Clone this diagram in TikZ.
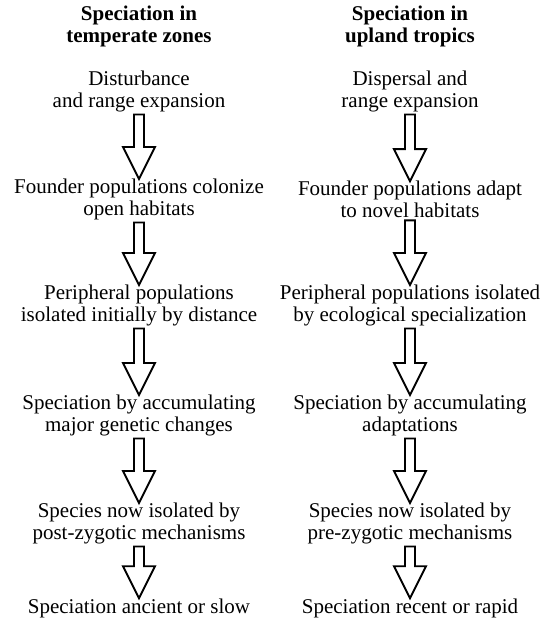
\documentclass[tikz,border=0pt]{standalone}
\usepackage{fontspec}
\setmainfont{Liberation Serif}
\usetikzlibrary{calc}
\tikzset{
  txt/.style={align=center,inner sep=0pt,font=\fontsize{21}{21.5}\selectfont},
  ttl/.style={align=center,inner sep=0pt,font=\fontsize{21}{22}\selectfont\bfseries},
  hollow/.style={draw=black,line width=1.9pt,fill=white,line join=miter}
}
% #1 from node, #2 to node, #3 gap below #1, #4 gap above #2
\newcommand\harrow[4]{%
  \draw[hollow] let \p1=(#1.south), \p2=(#2.north),
    \n1={\y1-#3}, \n2={\y2+#4}, \n3={\y2+#4+32pt} in
    (\x1-5pt,\n1) -- (\x1+5pt,\n1) -- (\x1+5pt,\n3) -- (\x1+16pt,\n3)
    -- (\x1,\n2) -- (\x1-16pt,\n3) -- (\x1-5pt,\n3) -- cycle;}
\begin{document}
\begin{tikzpicture}[x=1pt,y=-1pt]
\useasboundingbox (0,0) rectangle (550,621);
% left column
\node[ttl] (LT) at (139,26) {Speciation in\\temperate zones};
\node[txt] (L1) at (139,91.5) {Disturbance\\and range expansion};
\node[txt] (L2) at (139,199.5) {Founder populations colonize\\open habitats};
\node[txt] (L3) at (139,305.5) {Peripheral populations\\isolated initially by distance};
\node[txt] (L4) at (139,415.5) {Speciation by accumulating\\major genetic changes};
\node[txt] (L5) at (139,523.5) {Species now isolated by\\post-zygotic mechanisms};
\node[txt] (L6) at (139,608) {Speciation ancient or slow};
% right column
\node[ttl] (RT) at (410,26) {Speciation in\\upland tropics};
\node[txt] (R1) at (410,91.5) {Dispersal and\\range expansion};
\node[txt] (R2) at (410,199.5) {Founder populations adapt\\to novel habitats};
\node[txt] (R3) at (410,305.5) {Peripheral populations isolated\\by ecological specialization};
\node[txt] (R4) at (410,415.5) {Speciation by accumulating\\adaptations};
\node[txt] (R5) at (410,523.5) {Species now isolated by\\pre-zygotic mechanisms};
\node[txt] (R6) at (410,608) {Speciation recent or rapid};
% arrows
\harrow{L1}{L2}{2.5pt}{0pt}
\harrow{L2}{L3}{2.5pt}{0pt}
\harrow{L3}{L4}{2.5pt}{0pt}
\harrow{L4}{L5}{2.5pt}{0pt}
\harrow{L5}{L6}{2.5pt}{0pt}
\harrow{R1}{R2}{2.5pt}{0pt}
\harrow{R2}{R3}{2.5pt}{0pt}
\harrow{R3}{R4}{2.5pt}{0pt}
\harrow{R4}{R5}{2.5pt}{0pt}
\harrow{R5}{R6}{2.5pt}{0pt}
\end{tikzpicture}
\end{document}
